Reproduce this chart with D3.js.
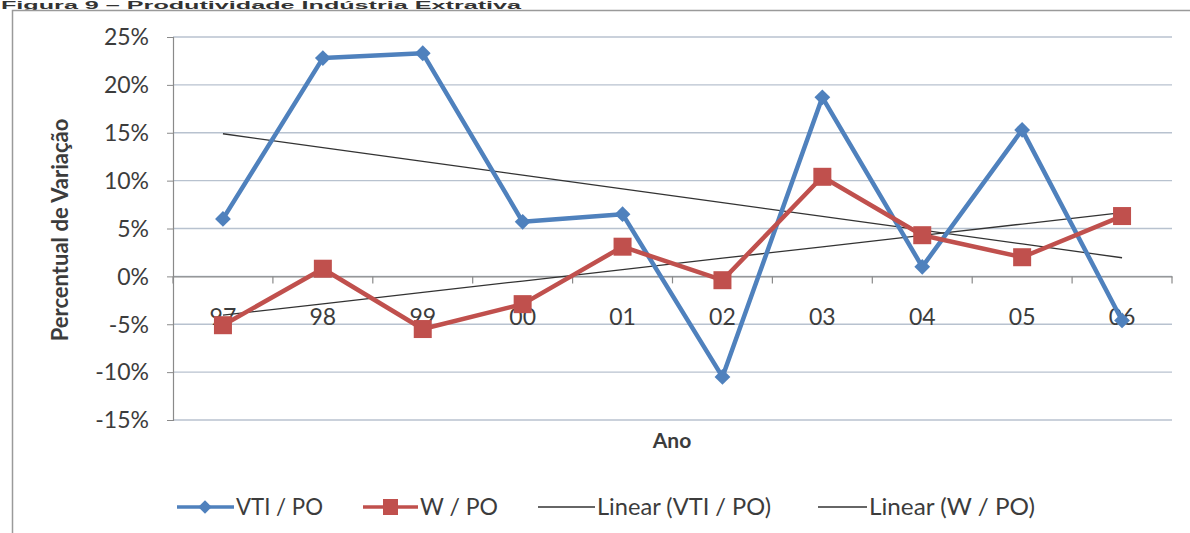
<!DOCTYPE html>
<html><head><meta charset="utf-8">
<script src="https://cdn.jsdelivr.net/npm/d3@7"></script>
<style>body{margin:0;background:#fff}svg{display:block}</style>
</head><body>
<svg id="c" width="1190" height="533"></svg>
<script>
const categories = ["97","98","99","00","01","02","03","04","05","06"];
const vtiPo = [6.0, 22.8, 23.3, 5.7, 6.5, -10.5, 18.7, 1.0, 15.3, -4.6];
const wPo = [-5.1, 0.8, -5.5, -2.9, 3.1, -0.4, 10.4, 4.3, 2.0, 6.3];
const yTicks = [25, 20, 15, 10, 5, 0, -5, -10, -15];
const seriesNames = ["VTI / PO", "W / PO", "Linear (VTI / PO)", "Linear (W / PO)"];

const svg = d3.select("#c");
const FONT = "Lato, 'Open Sans', sans-serif";
const blue = "#4f81bd", red = "#c0504d";
const txt = "#3c3c3c";

// title (small, at very top) and outer border
svg.append("text").attr("x", 1).attr("y", 8.5).attr("font-family","Arial, 'Liberation Sans', sans-serif")
  .attr("font-weight","bold").attr("font-size",10).attr("fill","#333")
  .attr("textLength",520).attr("lengthAdjust","spacingAndGlyphs")
  .text("Figura 9 – Produtividade Indústria Extrativa");
svg.append("path").attr("d","M12.5,533 V10.5 H1190").attr("fill","none").attr("stroke","#9a9a9a").attr("stroke-width",1.5);

const x = d3.scaleBand().domain(categories).range([173, 1172]);
const y = d3.scaleLinear().domain([-15, 25]).range([420, 37]);
const cx = d => x(d) + x.bandwidth()/2;

// gridlines
svg.append("g").selectAll("line").data(yTicks).join("line")
  .attr("x1", 173).attr("x2", 1172).attr("y1", d => y(d)).attr("y2", d => y(d))
  .attr("stroke", "#b8c2cf").attr("stroke-width", 1.3);

// y axis
const yAxis = d3.axisLeft(y).tickValues(yTicks).tickSize(6).tickFormat(d => d + "%");
const gy = svg.append("g").attr("transform","translate(173,0)").call(yAxis);
gy.select(".domain").attr("stroke","#8a8a8a").attr("stroke-width",1.2);
gy.selectAll(".tick line").attr("stroke","#8a8a8a");
gy.selectAll(".tick text").attr("font-family",FONT).attr("font-size",23).attr("fill",txt)
  .attr("x",-24).attr("dy","0.34em");

// x axis at zero
const gx = svg.append("g").attr("transform",`translate(0,${y(0)})`)
  .call(d3.axisBottom(x).tickSize(0).tickFormat(""));
gx.select(".domain").attr("stroke","#8a8a8a").attr("stroke-width",1.2);
const bounds = categories.map(c => x(c)).concat([x(categories[categories.length-1]) + x.bandwidth()]);
svg.append("g").selectAll("line").data(bounds).join("line")
  .attr("x1", d => d).attr("x2", d => d).attr("y1", y(0)).attr("y2", y(0)+7)
  .attr("stroke","#8a8a8a").attr("stroke-width",1.2);

// x labels (drawn under series)
svg.append("g").selectAll("text").data(categories).join("text")
  .attr("x", d => cx(d)).attr("y", 317).attr("dy","0.35em").attr("text-anchor","middle")
  .attr("font-family",FONT).attr("font-size",23).attr("fill",txt).text(d => d);

// axis titles
svg.append("text").attr("transform","translate(68,230) rotate(-90)").attr("text-anchor","middle")
  .attr("font-family",FONT).attr("font-weight","bold").attr("font-size",22).attr("fill",txt)
  .text("Percentual de Variação");
svg.append("text").attr("x",672).attr("y",448).attr("text-anchor","middle")
  .attr("font-family",FONT).attr("font-weight","bold").attr("font-size",21).attr("fill",txt)
  .text("Ano");

// linear trends (least squares)
function fit(vals){
  const xs = vals.map((_,i)=>i+1);
  const mx = d3.mean(xs), my = d3.mean(vals);
  const b = d3.sum(xs.map((xi,i)=>(xi-mx)*(vals[i]-my))) / d3.sum(xs.map(xi=>(xi-mx)**2));
  return xs.map(xi => my + b*(xi-mx));
}
const line = d3.line().x((d,i)=>cx(categories[i])).y(d=>y(d));
[fit(vtiPo), fit(wPo)].forEach(t => {
  svg.append("path").attr("d", line(t)).attr("fill","none").attr("stroke","#333").attr("stroke-width",1.3);
});

// series lines
svg.append("path").attr("d", line(vtiPo)).attr("fill","none").attr("stroke",blue).attr("stroke-width",4.5).attr("stroke-linejoin","round");
svg.append("path").attr("d", line(wPo)).attr("fill","none").attr("stroke",red).attr("stroke-width",4.5).attr("stroke-linejoin","round");

// markers
svg.append("g").selectAll("path").data(vtiPo).join("path")
  .attr("transform",(d,i)=>`translate(${cx(categories[i])},${y(d)}) rotate(45)`)
  .attr("d", d3.symbol().type(d3.symbolSquare).size(125)).attr("fill",blue);
svg.append("g").selectAll("rect").data(wPo).join("rect")
  .attr("x",(d,i)=>cx(categories[i])-9).attr("y",d=>y(d)-9).attr("width",18).attr("height",18)
  .attr("fill",red);

// legend
const ly = 507;
const leg = svg.append("g");
const lt = (xx, s, w) => leg.append("text").attr("x",xx).attr("y",ly).attr("dy","0.35em")
  .attr("font-family",FONT).attr("font-size",22.5).attr("fill",txt)
  .attr("textLength",w).attr("lengthAdjust","spacingAndGlyphs").text(s);
// VTI
leg.append("line").attr("x1",177).attr("x2",234).attr("y1",ly).attr("y2",ly).attr("stroke",blue).attr("stroke-width",3.5);
leg.append("path").attr("transform",`translate(205,${ly}) rotate(45)`).attr("d", d3.symbol().type(d3.symbolSquare).size(90)).attr("fill",blue);
lt(236, seriesNames[0], 87);
// W
leg.append("line").attr("x1",363).attr("x2",418).attr("y1",ly).attr("y2",ly).attr("stroke",red).attr("stroke-width",3.5);
leg.append("rect").attr("x",383).attr("y",ly-8).attr("width",15).attr("height",16).attr("fill",red);
lt(420, seriesNames[1], 78);
// Linear VTI
leg.append("line").attr("x1",538).attr("x2",595).attr("y1",ly).attr("y2",ly).attr("stroke","#333").attr("stroke-width",1.3);
lt(597, seriesNames[2], 174);
// Linear W
leg.append("line").attr("x1",818).attr("x2",867).attr("y1",ly).attr("y2",ly).attr("stroke","#333").attr("stroke-width",1.3);
lt(869, seriesNames[3], 166);
</script>
</body></html>
